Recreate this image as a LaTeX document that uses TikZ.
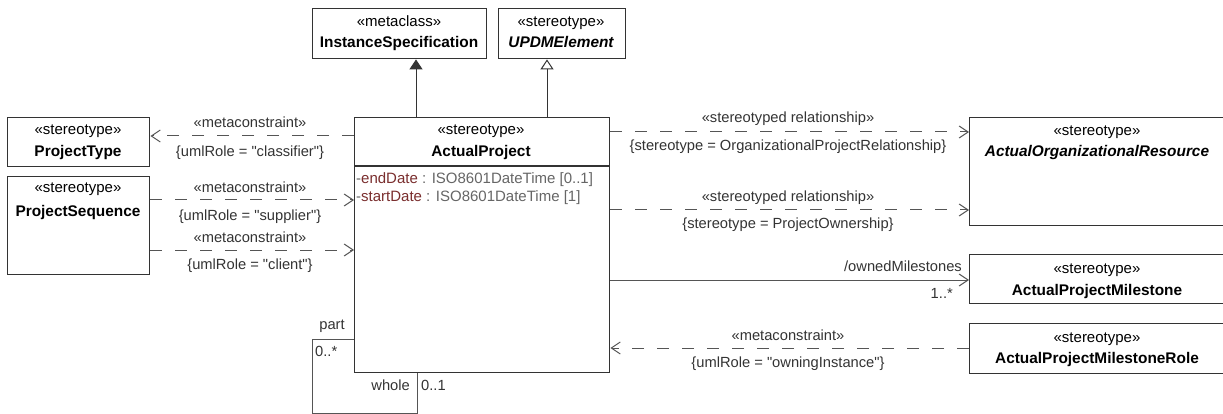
\documentclass[tikz,border=0pt]{standalone}
\usepackage{fontspec}
\setmainfont{Liberation Sans}[Ligatures=TeXOff]
\usetikzlibrary{arrows.meta}
\definecolor{boxline}{HTML}{333333}
\definecolor{conline}{HTML}{555555}
\definecolor{labtext}{HTML}{333333}
\definecolor{attrred}{HTML}{7A2E2E}
\definecolor{attrgray}{HTML}{666666}
\begin{document}
\begin{tikzpicture}[x=1pt,y=-1pt,
  every node/.style={font=\fontsize{15}{18}\selectfont},
  umlbox/.style={draw=boxline,line width=1.4pt,fill=white,rectangle,inner sep=0pt,anchor=north west},
  stxt/.style={text=black,inner sep=0pt,anchor=base},
  ntxt/.style={text=black,inner sep=0pt,anchor=base,font=\fontsize{15.4}{18}\selectfont\bfseries},
  itxt/.style={text=black,inner sep=0pt,anchor=base,font=\fontsize{15.4}{18}\selectfont\bfseries\itshape},
  lab/.style={text=labtext,inner sep=0pt,anchor=base,font=\fontsize{14.7}{18}\selectfont},
  depend/.style={draw=conline,line width=1pt,dash pattern=on 12pt off 13pt,-{Straight Barb[length=9pt,width=12pt,line width=1pt]}},
  assoc/.style={draw=conline,line width=1pt,-{Straight Barb[length=9pt,width=12pt,line width=1pt]}},
  genfill/.style={draw=boxline,line width=1pt,-{Triangle[length=10pt,width=13pt,fill=boxline]}},
  genopen/.style={draw=boxline,line width=1pt,-{Triangle[open,length=10pt,width=13pt,fill=white]}},
  loopline/.style={draw=conline,line width=0.9pt}
]
\useasboundingbox (0,0) rectangle (1223,414);

% self association loop corners
\coordinate (l1) at (312,339);
\coordinate (l2) at (312,413);
\coordinate (l3) at (417,413);

% boxes
\node[umlbox,minimum width=174pt,minimum height=50pt] (is) at (312,8) {};
\node[umlbox,minimum width=127pt,minimum height=50pt] (updm) at (498,8) {};
\node[umlbox,minimum width=142pt,minimum height=49pt] (pt) at (7,117) {};
\node[umlbox,minimum width=142pt,minimum height=98pt] (ps) at (7,176) {};
\node[umlbox,minimum width=255pt,minimum height=255pt] (ap) at (354,117) {};
\node[umlbox,minimum width=257pt,minimum height=108pt] (aor) at (969,117) {};
\node[umlbox,minimum width=257pt,minimum height=49pt] (apm) at (969,254) {};
\node[umlbox,minimum width=257pt,minimum height=50pt] (apmr) at (969,323) {};

\draw[loopline] (ap.west |- l1) -- (l1) -- (l2) -- (l3) -- (l3 |- ap.south);
\draw[boxline,line width=1.4pt] (ap.west |- 0,166) -- (ap.east |- 0,166);

% box texts
\node[stxt] (is1) at (399,27) {«metaclass»};
\node[ntxt] (is2) at (399,48) {InstanceSpecification};
\node[stxt] (up1) at (561,27) {«stereotype»};
\node[itxt] (up2) at (561,48) {UPDMElement};
\node[stxt] (pt1) at (78,135) {«stereotype»};
\node[ntxt] (pt2) at (78,157) {ProjectType};
\node[stxt] (ps1) at (78,193) {«stereotype»};
\node[ntxt] (ps2) at (78,216) {ProjectSequence};
\node[stxt] (ap1) at (481,135) {«stereotype»};
\node[ntxt] (ap2) at (481,157) {ActualProject};
\node[inner sep=0pt,anchor=base west] (at1) at (356,184) {\textcolor{attrgray}{-}\textcolor{attrred}{endDate}\textcolor{attrgray}{~: ISO8601DateTime [0..1]}};
\node[inner sep=0pt,anchor=base west] (at2) at (356,202) {\textcolor{attrgray}{-}\textcolor{attrred}{startDate}\textcolor{attrgray}{~: ISO8601DateTime [1]}};
\node[stxt] (aor1) at (1097,136) {«stereotype»};
\node[itxt] (aor2) at (1097,157) {ActualOrganizationalResource};
\node[stxt] (apm1) at (1097,273) {«stereotype»};
\node[ntxt] (apm2) at (1097,295) {ActualProjectMilestone};
\node[stxt] (apmr1) at (1097,342) {«stereotype»};
\node[ntxt] (apmr2) at (1097,363) {ActualProjectMilestoneRole};

% generalizations
\coordinate (g1t) at (is.south -| 416,0);
\draw[genfill] (ap.north -| g1t) -- (g1t);
\coordinate (g2t) at (updm.south -| 547,0);
\draw[genopen] (ap.north -| g2t) -- (g2t);

% dependencies on the left
\draw[depend] (ap.west |- 0,136) -- (pt.east |- 0,136);
\node[lab] (c1a) at (250,128) {«metaconstraint»};
\node[lab] (c1b) at (250,157) {\{umlRole = "classifier"\}};
\draw[depend] (ps.east |- 0,200) -- (ap.west |- 0,200);
\node[lab] (c2a) at (250,193) {«metaconstraint»};
\node[lab] (c2b) at (250,220) {\{umlRole = "supplier"\}};
\draw[depend] (ps.east |- 0,250) -- (ap.west |- 0,250);
\node[lab] (c3a) at (250,242) {«metaconstraint»};
\node[lab] (c3b) at (250,269) {\{umlRole = "client"\}};

% right side connectors
\draw[depend] (ap.east |- 0,132) -- (aor.west |- 0,132);
\node[lab] (s1a) at (788,123) {«stereotyped relationship»};
\node[lab] (s1b) at (788,151) {\{stereotype = OrganizationalProjectRelationship\}};
\draw[depend] (ap.east |- 0,210) -- (aor.west |- 0,210);
\node[lab] (s2a) at (788,202) {«stereotyped relationship»};
\node[lab] (s2b) at (788,229) {\{stereotype = ProjectOwnership\}};
\draw[assoc] (ap.east |- 0,280) -- (apm.west |- 0,280);
\node[lab,anchor=base east] (om) at (962,271) {/ownedMilestones};
\node[lab,anchor=base east] (omm) at (953,298) {1..*};
\draw[depend] (apmr.west |- 0,348) -- (ap.east |- 0,348);
\node[lab] (m1a) at (788,340) {«metaconstraint»};
\node[lab] (m1b) at (788,367) {\{umlRole = "owningInstance"\}};

% self association labels
\node[lab] (pa) at (332,329) {part};
\node[lab,anchor=base west] (pam) at (315,356) {0..*};
\node[lab,anchor=base east] (wh) at (410,390) {whole};
\node[lab,anchor=base west] (whm) at (421,390) {0..1};
\end{tikzpicture}
\end{document}
